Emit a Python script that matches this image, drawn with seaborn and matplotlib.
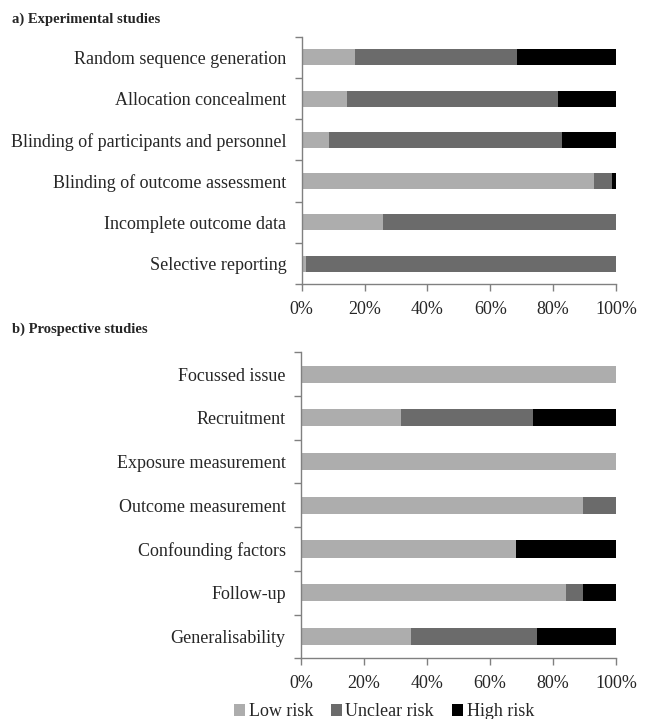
import matplotlib
matplotlib.use("Agg")
import matplotlib.pyplot as plt
from matplotlib.patches import Patch
import numpy as np
import pandas as pd
import seaborn as sns

# Risk-of-bias judgements (% of studies)
exp_domains = ["Random sequence generation", "Allocation concealment",
               "Blinding of participants and personnel", "Blinding of outcome assessment",
               "Incomplete outcome data", "Selective reporting"]
exp_low = [17.1, 14.3, 8.6, 93.0, 25.8, 1.3]
exp_unclear = [51.5, 67.3, 74.3, 5.7, 74.2, 98.7]
exp_high = [31.4, 18.4, 17.1, 1.3, 0.0, 0.0]

pro_domains = ["Focussed issue", "Recruitment", "Exposure measurement",
               "Outcome measurement", "Confounding factors", "Follow-up",
               "Generalisability"]
pro_low = [100.0, 31.6, 100.0, 89.5, 68.4, 84.2, 35.0]
pro_unclear = [0.0, 42.1, 0.0, 10.5, 0.0, 5.3, 40.0]
pro_high = [0.0, 26.3, 0.0, 0.0, 31.6, 10.5, 25.0]

risk_levels = ["Low risk", "Unclear risk", "High risk"]
risk_colors = ["#adadad", "#6b6b6b", "#000000"]
x_ticks = [0, 20, 40, 60, 80, 100]
x_ticklabels = ["0%", "20%", "40%", "60%", "80%", "100%"]

sns.set_theme(style="white")
plt.rcParams["font.family"] = ["Liberation Serif", "DejaVu Serif"]
plt.rcParams["font.size"] = 13

fig = plt.figure(figsize=(6.49, 7.19), dpi=100)
W, H = 649, 719


def make_axes(left, right, top, bottom):
    return fig.add_axes([left / W, 1 - bottom / H, (right - left) / W, (bottom - top) / H])


def stacked(ax, domains, low, unclear, high):
    df = pd.DataFrame({"domain": domains, "low": low, "unclear": unclear, "high": high})
    df["c1"] = df["low"]
    df["c2"] = df["low"] + df["unclear"]
    df["c3"] = df["low"] + df["unclear"] + df["high"]
    for col, color in zip(["c3", "c2", "c1"], risk_colors[::-1]):
        sns.barplot(data=df, x=col, y="domain", orient="h", color=color,
                    width=0.39, saturation=1, linewidth=0, ax=ax)
    n = len(domains)
    ax.set_xlim(0, 100)
    ax.set_ylim(n - 0.5, -0.5)
    ax.set_xticks(x_ticks)
    ax.set_xticklabels(x_ticklabels)
    ax.set_xlabel("")
    ax.set_ylabel("")
    ax.set_yticks(range(n))
    ax.set_yticklabels(domains)
    ax.set_yticks(np.arange(-0.5, n, 1.0), minor=True)
    ax.tick_params(axis="y", which="major", length=0, pad=11, labelsize=13)
    ax.tick_params(axis="y", which="minor", length=5, width=1, color="#808080", left=True)
    ax.tick_params(axis="x", which="major", length=5, width=1, color="#808080",
                   bottom=True, pad=7, labelsize=13)
    for side in ["top", "right"]:
        ax.spines[side].set_visible(False)
    for side in ["left", "bottom"]:
        ax.spines[side].set_color("#808080")
        ax.spines[side].set_linewidth(1)


ax1 = make_axes(301.7, 616, 36.7, 284.3)
stacked(ax1, exp_domains, exp_low, exp_unclear, exp_high)
ax2 = make_axes(301, 616, 352.3, 658.3)
stacked(ax2, pro_domains, pro_low, pro_unclear, pro_high)

fig.text(12 / W, 1 - 19 / H, "a) Experimental studies", fontsize=10.5, fontweight="bold",
         va="center", ha="left")
fig.text(12 / W, 1 - 329 / H, "b) Prospective studies", fontsize=10.5, fontweight="bold",
         va="center", ha="left")

handles = [Patch(facecolor=c, edgecolor="none", label=l) for c, l in zip(risk_colors, risk_levels)]
fig.legend(handles=handles, loc="center", bbox_to_anchor=(384 / W, 1 - 712 / H), ncol=3,
           frameon=False, fontsize=13, handlelength=0.6, handleheight=0.6,
           handletextpad=0.2, columnspacing=1.0, borderpad=0)

fig.savefig("out.png", dpi=100)
